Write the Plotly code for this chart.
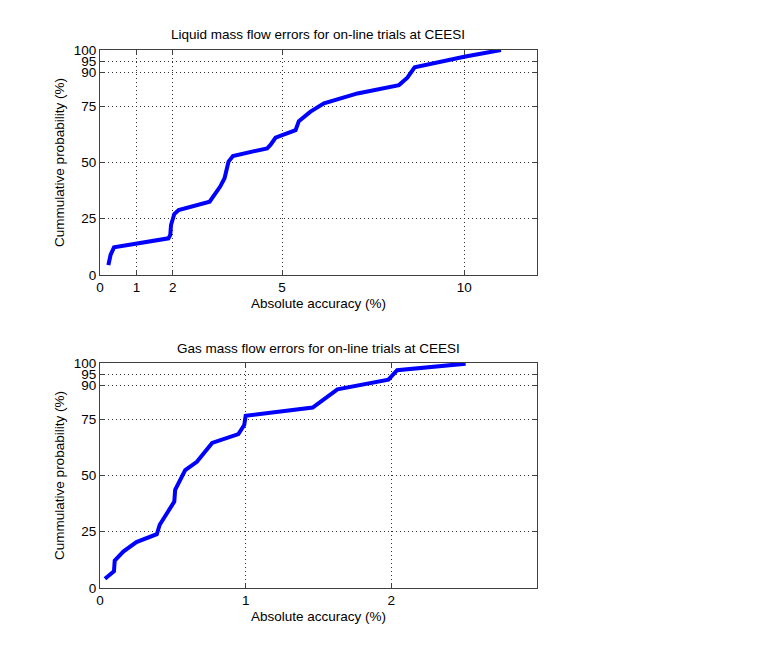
import plotly.graph_objects as go

# liquid mass flow: absolute accuracy (%) vs cumulative probability (%)
liquid_x = [0.23, 0.29, 0.385, 1.88, 1.93, 1.95, 2.04, 2.16, 3.01, 3.17, 3.30, 3.42,
            3.49, 3.53, 3.65, 4.59, 4.68, 4.82, 5.37, 5.46, 5.78, 6.15, 7.07, 8.21,
            8.44, 8.64, 10.0, 11.01]
liquid_y = [4.4, 8.9, 12.3, 16.3, 17.8, 22.2, 27.1, 28.9, 32.6, 36.3, 39.3, 43.0,
            47.4, 50.4, 52.9, 56.3, 57.8, 61.0, 64.4, 68.4, 72.6, 76.3, 80.7, 84.4,
            87.7, 92.3, 97.0, 100.0]

# gas mass flow
gas_x = [0.034, 0.096, 0.101, 0.16, 0.25, 0.39, 0.41, 0.46, 0.51, 0.516, 0.55, 0.585,
         0.665, 0.77, 0.95, 0.99, 1.0, 1.46, 1.63, 1.98, 2.04, 2.51]
gas_y = [4.1, 7.4, 12.2, 16.2, 20.4, 23.9, 28.1, 33.2, 38.4, 43.6, 48.0, 52.4,
         56.1, 64.5, 68.4, 72.4, 76.5, 80.2, 88.3, 92.6, 96.8, 99.7]

y_ticks = [0, 25, 50, 75, 90, 95, 100]
liquid_xticks = [0, 1, 2, 5, 10]
gas_xticks = [0, 1, 2]

W, H = 768, 661
OFF = 8  # page body margin
font = dict(family="Liberation Sans, Arial, sans-serif", size=13.5, color="black")


def px_x(v):
    return (v - OFF) / W


def px_y(v):
    return 1 - (v - OFF) / H


fig = go.Figure()
fig.add_trace(go.Scatter(x=liquid_x, y=liquid_y, mode="lines",
                         line=dict(color="#0000ff", width=4),
                         xaxis="x", yaxis="y", showlegend=False))
fig.add_trace(go.Scatter(x=gas_x, y=gas_y, mode="lines",
                         line=dict(color="#0000ff", width=4),
                         xaxis="x2", yaxis="y2", showlegend=False))

axis_style = dict(showline=True, linecolor="#404040", linewidth=1, mirror="ticks",
                  ticks="inside", ticklen=5, tickcolor="#404040",
                  showgrid=True, gridcolor="#303030", gridwidth=1, griddash="1px,3px",
                  zeroline=False, tickfont=font, title_font=font, automargin=False)

fig.update_layout(
    width=W, height=H,
    paper_bgcolor="white", plot_bgcolor="white",
    margin=dict(l=0, r=0, t=0, b=0, pad=0),
    font=font, showlegend=False,
    xaxis=dict(domain=[px_x(100), px_x(537)], range=[0, 12], tickvals=liquid_xticks,
               anchor="y", title=dict(text="Absolute accuracy (%)", standoff=4),
               **axis_style),
    yaxis=dict(domain=[px_y(275), px_y(50)], range=[0, 100], tickvals=y_ticks,
               anchor="x", title=dict(text="Cummulative probability (%)", standoff=6),
               **axis_style),
    xaxis2=dict(domain=[px_x(100), px_x(537)], range=[0, 3], tickvals=gas_xticks,
                anchor="y2", title=dict(text="Absolute accuracy (%)", standoff=4),
                **axis_style),
    yaxis2=dict(domain=[px_y(588), px_y(363)], range=[0, 100], tickvals=y_ticks,
                anchor="x2", title=dict(text="Cummulative probability (%)", standoff=6),
                **axis_style),
)

fig.add_annotation(text="Liquid mass flow errors for on-line trials at CEESI",
                   xref="paper", yref="paper", x=px_x(318), y=px_y(35),
                   yanchor="middle", showarrow=False, font=font)
fig.add_annotation(text="Gas mass flow errors for on-line trials at CEESI",
                   xref="paper", yref="paper", x=px_x(318), y=px_y(348),
                   yanchor="middle", showarrow=False, font=font)

fig.write_html("out.html")
